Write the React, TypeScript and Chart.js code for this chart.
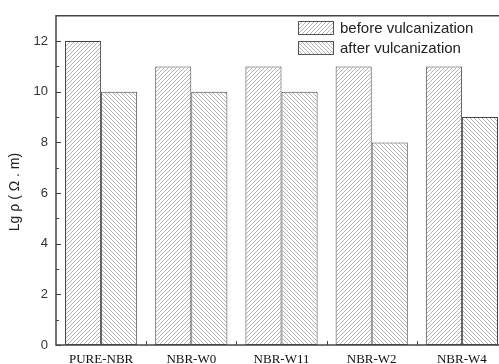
import React, { useEffect, useRef } from "react";
import { Chart, registerables } from "chart.js";

Chart.register(...registerables);

const categories = ["PURE-NBR", "NBR-W0", "NBR-W11", "NBR-W2", "NBR-W4"];
const beforeValues = [12, 11, 11, 11, 11];
const afterValues = [10, 10, 10, 8, 9];
const yTickValues = [0, 2, 4, 6, 8, 10, 12];
const yMinorValues = [1, 3, 5, 7, 9, 11];
const seriesLabels = ["before vulcanization", "after vulcanization"];
const yTitle = "Lg ρ ( Ω . m)";

function makeHatch(ctx: CanvasRenderingContext2D, dir: number) {
  const s = 4;
  const c = document.createElement("canvas");
  c.width = s;
  c.height = s;
  const g = c.getContext("2d")!;
  g.fillStyle = "#ffffff";
  g.fillRect(0, 0, s, s);
  g.strokeStyle = "#b4b4b4";
  g.lineWidth = 1;
  g.beginPath();
  if (dir === 1) {
    g.moveTo(-1, s + 1); g.lineTo(s + 1, -1);
    g.moveTo(-1, 1); g.lineTo(1, -1);
    g.moveTo(s - 1, s + 1); g.lineTo(s + 1, s - 1);
  } else {
    g.moveTo(-1, -1); g.lineTo(s + 1, s + 1);
    g.moveTo(s - 1, -1); g.lineTo(s + 1, 1);
    g.moveTo(-1, s - 1); g.lineTo(1, s + 1);
  }
  g.stroke();
  return ctx.createPattern(c, "repeat")!;
}

const framePlugin = {
  id: "frame",
  afterDraw(chart: any) {
    const ctx: CanvasRenderingContext2D = chart.ctx;
    const { left, right, top, bottom } = chart.chartArea;
    const xs = chart.scales.x;
    const ys = chart.scales.y;
    ctx.save();
    ctx.strokeStyle = "#444";
    ctx.lineWidth = 1.5;
    ctx.beginPath();
    ctx.moveTo(right, top);
    ctx.lineTo(left, top);
    ctx.lineTo(left, bottom);
    ctx.lineTo(right, bottom);
    ctx.lineTo(right, top);
    ctx.stroke();
    ctx.lineWidth = 1;
    ctx.beginPath();
    yTickValues.forEach((v) => {
      const y = Math.round(ys.getPixelForValue(v)) + 0.5;
      ctx.moveTo(left, y);
      ctx.lineTo(left + 5, y);
    });
    yMinorValues.forEach((v) => {
      const y = Math.round(ys.getPixelForValue(v)) + 0.5;
      ctx.moveTo(left, y);
      ctx.lineTo(left + 3, y);
    });
    for (let i = 0; i < categories.length - 1; i++) {
      const x = Math.round((xs.getPixelForValue(i) + xs.getPixelForValue(i + 1)) / 2) + 0.5;
      ctx.moveTo(x, bottom);
      ctx.lineTo(x, bottom - 4);
    }
    ctx.stroke();

    // legend
    const ds = chart.data.datasets;
    const bx = 298, bw = 35, bh = 13;
    const rows = [21, 41];
    ctx.font = "15px 'Liberation Sans', Arial, sans-serif";
    ctx.textBaseline = "middle";
    ctx.textAlign = "left";
    ds.forEach((d: any, i: number) => {
      const y = rows[i];
      ctx.fillStyle = d.backgroundColor;
      ctx.fillRect(bx, y, bw, bh);
      ctx.strokeStyle = "#555";
      ctx.lineWidth = 1;
      ctx.strokeRect(bx + 0.5, y + 0.5, bw, bh);
      ctx.fillStyle = "#222";
      ctx.fillText(d.label, 340, y + bh / 2 + 1);
    });

    // y title
    ctx.translate(15, 192);
    ctx.rotate(-Math.PI / 2);
    ctx.textAlign = "center";
    ctx.font = "14px 'Liberation Sans', Arial, sans-serif";
    ctx.fillStyle = "#222";
    ctx.fillText(yTitle, 0, 0);
    ctx.restore();
  },
};

export default function App() {
  const ref = useRef<HTMLCanvasElement>(null);
  useEffect(() => {
    const canvas = ref.current!;
    const ctx = canvas.getContext("2d")!;
    const before = makeHatch(ctx, 1);
    const after = makeHatch(ctx, -1);
    const chart = new Chart(canvas, {
      type: "bar",
      data: {
        labels: categories,
        datasets: [
          {
            label: seriesLabels[0],
            data: beforeValues,
            backgroundColor: before as any,
            borderColor: "#444",
            borderWidth: 1,
            borderSkipped: false,
            categoryPercentage: 0.8,
            barPercentage: 1.0,
          },
          {
            label: seriesLabels[1],
            data: afterValues,
            backgroundColor: after as any,
            borderColor: "#444",
            borderWidth: 1,
            borderSkipped: false,
            categoryPercentage: 0.8,
            barPercentage: 1.0,
          },
        ],
      },
      options: {
        responsive: false,
        animation: false,
        devicePixelRatio: 1,
        layout: { padding: { top: 11, right: 1, left: 0, bottom: 0 } },
        plugins: { legend: { display: false }, tooltip: { enabled: false } },
        scales: {
          x: {
            grid: { display: false, drawTicks: false },
            border: { display: false },
            ticks: {
              font: { family: "'Liberation Serif', 'Times New Roman', serif", size: 13 },
              color: "#111",
              padding: 7,
              maxRotation: 0,
              autoSkip: false,
            },
            afterFit: (s: any) => {
              s.height = 19;
            },
          },
          y: {
            min: 0,
            max: 13,
            grid: { display: false, drawTicks: false },
            border: { display: false },
            afterBuildTicks: (s: any) => {
              s.ticks = yTickValues.map((v) => ({ value: v }));
            },
            ticks: {
              font: { family: "'Liberation Sans', Arial, sans-serif", size: 13 },
              color: "#333",
              padding: 8,
            },
            afterFit: (s: any) => {
              s.width = 56;
            },
          },
        },
      },
      plugins: [framePlugin],
    });
    return () => chart.destroy();
  }, []);
  return (
    <div
      style={{
        position: "fixed",
        left: 0,
        top: 0,
        width: 499,
        height: 364,
        overflow: "hidden",
        background: "#fff",
      }}
    >
      <canvas ref={ref} width={508} height={364} style={{ width: 508, height: 364, display: "block" }} />
    </div>
  );
}
